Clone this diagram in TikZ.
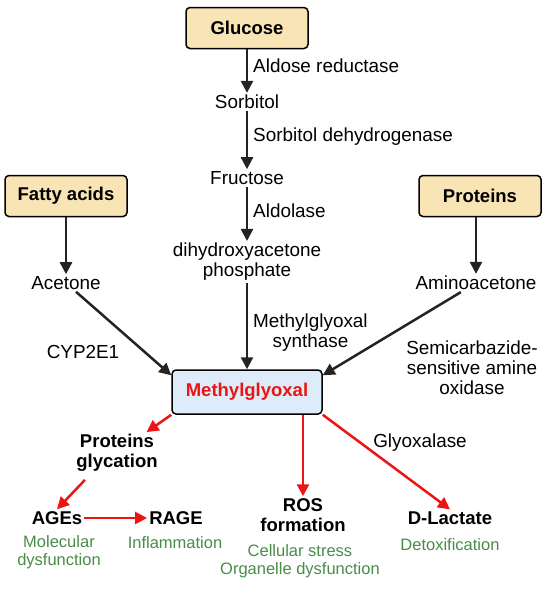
\documentclass[tikz,border=0pt]{standalone}
\usepackage{fontspec}
\setmainfont{Liberation Sans}
\usetikzlibrary{arrows.meta, positioning, calc}

\definecolor{boxtan}{RGB}{248,228,180}
\definecolor{boxblue}{RGB}{222,236,250}
\definecolor{mgred}{RGB}{236,20,20}
\definecolor{effgreen}{RGB}{72,140,72}
\definecolor{arrowgray}{RGB}{35,35,35}

\begin{document}
\begin{tikzpicture}[
    x=1pt, y=-1pt,
    src/.style={rectangle, rounded corners=4pt, draw=black, line width=1.5pt, fill=boxtan,
                minimum width=122pt, minimum height=41pt, font=\fontsize{18.5}{21}\selectfont\bfseries},
    mol/.style={align=center, inner sep=2pt, font=\fontsize{18.9}{20}\selectfont},
    enz/.style={align=left, inner sep=0pt, text=black, font=\fontsize{18.9}{20}\selectfont},
    prod/.style={align=center, inner sep=2pt, font=\fontsize{18.5}{20}\selectfont\bfseries},
    eff/.style={align=center, inner sep=0pt, text=effgreen, font=\fontsize{16.5}{18}\selectfont},
    arrow/.style={-{Triangle[length=12pt,width=12pt]}, line width=2.5pt, arrowgray},
    redarrow/.style={arrow, mgred},
]
\useasboundingbox (0,0) rectangle (550,590);

% ── Sources ──
\node[src] (glucose) at (247,28) {Glucose};
\node[src] (fatty) at (66,196) {Fatty acids};
\node[src] (prot) at (480,196) {Proteins};

% ── Polyol / glycolytic column ──
\node[mol] (sorb) at (247,102) {Sorbitol};
\node[mol] (fruc) at (247,178) {Fructose};
\node[mol] (dhap) at (247,262) {dihydroxyacetone\\phosphate};

% ── Side intermediates ──
\node[mol] (acet) at (66,283) {Acetone};
\node[mol] (amino) at (476,283) {Aminoacetone};

% ── Methylglyoxal ──
\node[rectangle, rounded corners=4pt, draw=black, line width=1.5pt, fill=boxblue,
      minimum width=150pt, minimum height=44pt, text=mgred,
      font=\fontsize{18.5}{21}\selectfont\bfseries] (mg) at (247,392) {Methylglyoxal};

% ── Products ──
\node[prod] (glyc) at (117,453) {Proteins\\glycation};
\node[prod] (ages) at (57,518) {AGEs};
\node[prod] (rage) at (176,518) {RAGE};
\node[prod] (ros) at (303,515) {ROS\\formation};
\node[prod] (dlac) at (450,518) {D-Lactate};

% ── Effects ──
\node[eff] (molec) at (59,552) {Molecular\\dysfunction};
\node[eff] (infl) at (175,543) {Inflammation};
\node[eff] (cell) at (300,561) {Cellular stress\\Organelle dysfunction};
\node[eff] (detox) at (450,545) {Detoxification};

% ── Enzymes ──
\node[enz, anchor=west] (aldred) at (253,66) {Aldose reductase};
\node[enz, anchor=west] (sdh) at (253,137) {Sorbitol dehydrogenase};
\node[enz, anchor=west] (aldol) at (253,211) {Aldolase};
\node[enz, anchor=west, align=center] (mgs) at (253,333) {Methylglyoxal\\synthase};
\node[enz] (cyp) at (83,352) {CYP2E1};
\node[enz, align=center] (ssao) at (472,368) {Semicarbazide-\\sensitive amine\\oxidase};
\node[enz] (glyox) at (420,443) {Glyoxalase};

% ── Arrows ──
\draw[arrow] (glucose) -- (sorb);
\draw[arrow] (sorb) -- (fruc);
\draw[arrow] (fruc) -- (dhap);
\draw[arrow] (dhap) -- (mg);
\draw[arrow] (fatty) -- (acet);
\draw[arrow] (prot.south -| amino) -- (amino);
\draw[arrow] (acet) -- ($(mg.north west)+(0,6)$);
\draw[arrow] (amino) -- ($(mg.north east)+(0,6)$);

\draw[redarrow] (mg.south west) -- (glyc);
\draw[redarrow] ($(glyc.south)+(-32,6)$) -- (ages.north);
\draw[redarrow] (ages) -- (rage);
\draw[redarrow] (mg.south -| ros) -- (ros);
\draw[redarrow] (mg.south east) -- (dlac.north);

\end{tikzpicture}
\end{document}
